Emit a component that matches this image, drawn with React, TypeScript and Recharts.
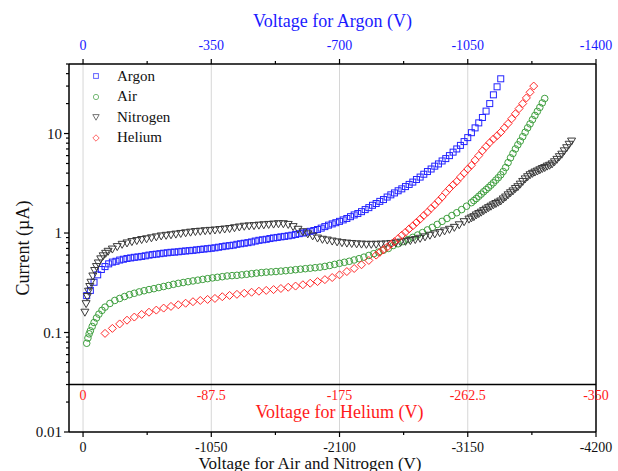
import React from 'react';
import {
  ScatterChart,
  Scatter,
  XAxis,
  YAxis,
  ReferenceLine,
  ReferenceDot,
  Legend
} from 'recharts';

const FONT = '"Liberation Serif", "Times New Roman", Times, serif';

const ARGON = '#2424ff';
const AIR = '#3f9f3f';
const NITROGEN = '#3a3a3a';
const HELIUM = '#ff2a2a';
const BLUE_TEXT = '#1a1aff';
const RED_TEXT = '#ff1a1a';

// Argon, read against the top axis (V, magnitude) and current (uA)
const argonVoltage = [
  10, 20, 30, 40, 50, 60, 70, 80, 90, 100, 110, 120, 130, 140, 150, 160, 170, 180, 190, 200,
  210, 220, 230, 240, 250, 260, 270, 280, 290, 300, 310, 320, 330, 340, 350, 360, 370, 380, 390, 400,
  410, 420, 430, 440, 450, 460, 470, 480, 490, 500, 510, 520, 530, 540, 550, 560, 570, 580, 590, 600,
  610, 620, 630, 640, 650, 660, 670, 680, 690, 700, 710, 720, 730, 740, 750, 760, 770, 780, 790, 800,
  810, 820, 830, 840, 850, 860, 870, 880, 890, 900, 910, 920, 930, 940, 950, 960, 970, 980, 990, 1000,
  1010, 1020, 1030, 1040, 1050, 1060, 1070, 1080, 1090, 1100, 1110, 1120, 1130, 1140
];
const argonCurrent = [
  0.235, 0.265, 0.32, 0.38, 0.43, 0.46, 0.49, 0.51, 0.52, 0.535, 0.545, 0.555, 0.562, 0.57, 0.575, 0.582, 0.59, 0.6, 0.607, 0.613,
  0.62, 0.627, 0.633, 0.64, 0.643, 0.648, 0.655, 0.66, 0.665, 0.67, 0.677, 0.684, 0.69, 0.696, 0.703, 0.71, 0.72, 0.73, 0.74, 0.747,
  0.755, 0.77, 0.78, 0.79, 0.8, 0.813, 0.83, 0.845, 0.855, 0.865, 0.88, 0.893, 0.903, 0.915, 0.925, 0.937, 0.95, 0.967, 0.985, 1.0,
  1.02, 1.04, 1.06, 1.085, 1.12, 1.16, 1.2, 1.235, 1.27, 1.31, 1.355, 1.4, 1.46, 1.52, 1.57, 1.64, 1.72, 1.8, 1.9, 1.98,
  2.08, 2.17, 2.3, 2.42, 2.53, 2.66, 2.78, 2.93, 3.08, 3.25, 3.45, 3.65, 3.9, 4.15, 4.4, 4.7, 4.95, 5.3, 5.6, 6.0,
  6.5, 7.0, 7.6, 8.3, 9.1, 10.2, 11.4, 12.8, 14.5, 16.8, 20.0, 24.5, 29.5, 35.5
];

// Air, bottom axis
const airVoltage = [
  30, 40, 50, 60, 75, 90, 110, 130, 155, 180,
  220, 260, 300, 340, 380, 420, 460, 500, 540, 580,
  620, 660, 700, 740, 780, 820, 860, 900, 940, 980,
  1020, 1060, 1100, 1140, 1180, 1220, 1260, 1300, 1340, 1380,
  1420, 1460, 1500, 1540, 1580, 1620, 1660, 1700, 1740, 1780,
  1820, 1860, 1900, 1940, 1980, 2020, 2060, 2100, 2140, 2180,
  2220, 2260, 2300, 2340, 2380, 2420, 2460, 2500, 2540, 2580,
  2620, 2660, 2700, 2740, 2780, 2820, 2860, 2900, 2940, 2980,
  3020, 3060, 3100, 3140, 3180,
  3200, 3220, 3240, 3260, 3280, 3300, 3320, 3340, 3360, 3380,
  3400, 3420, 3440, 3460, 3480, 3500, 3520, 3540, 3560, 3580,
  3600, 3620, 3640, 3660, 3680, 3700, 3720, 3740, 3760, 3780
];
const airCurrent = [
  0.078, 0.088, 0.097, 0.104, 0.115, 0.126, 0.14, 0.153, 0.167, 0.18,
  0.196, 0.21, 0.22, 0.23, 0.24, 0.248, 0.256, 0.263, 0.27, 0.276,
  0.283, 0.29, 0.297, 0.305, 0.312, 0.318, 0.324, 0.33, 0.336, 0.342,
  0.348, 0.354, 0.359, 0.364, 0.37, 0.373, 0.376, 0.38, 0.385, 0.39,
  0.395, 0.4, 0.404, 0.407, 0.41, 0.414, 0.418, 0.423, 0.428, 0.433,
  0.438, 0.443, 0.448, 0.454, 0.462, 0.472, 0.484, 0.496, 0.508, 0.52,
  0.536, 0.552, 0.572, 0.595, 0.62, 0.644, 0.672, 0.7, 0.75, 0.78,
  0.82, 0.86, 0.905, 0.955, 1.01, 1.075, 1.14, 1.22, 1.31, 1.4,
  1.5, 1.6, 1.72, 1.86, 2.02,
  2.12, 2.22, 2.34, 2.46, 2.6, 2.73, 2.87, 3.03, 3.2, 3.4,
  3.6, 3.85, 4.15, 4.55, 5.1, 5.7, 6.3, 7.0, 7.7, 8.4,
  9.3, 10.3, 11.4, 12.5, 13.8, 15.2, 16.7, 18.3, 20.3, 22.5
];

// Nitrogen, bottom axis
const nitrogenVoltage = [
  15, 25, 35, 45, 55, 65, 80, 95, 110, 125, 145, 165, 185, 205,
  240, 280, 320, 360, 400, 440, 480, 520, 560, 600,
  640, 680, 720, 760, 800, 840, 880, 920, 960, 1000,
  1040, 1080, 1120, 1160, 1200, 1240, 1280, 1320, 1360, 1400,
  1440, 1480, 1520, 1560, 1600, 1640, 1680, 1720, 1760, 1800,
  1840, 1880, 1920, 1960, 2000, 2040, 2080, 2120, 2160, 2200,
  2240, 2280, 2320, 2360, 2400, 2440, 2480, 2520, 2560, 2600,
  2640, 2680, 2720, 2760, 2800, 2840, 2880, 2920, 2960, 3000,
  3040, 3080, 3120, 3160,
  3180, 3200, 3220, 3240, 3260, 3280, 3300, 3320, 3340, 3360,
  3380, 3400, 3420, 3440, 3460, 3480, 3500, 3520, 3540, 3560,
  3580, 3600, 3620, 3640, 3660, 3680, 3700, 3720, 3740, 3760,
  3780, 3800, 3820, 3840, 3860, 3880, 3900, 3920, 3940, 3960,
  3980, 4000
];
const nitrogenCurrent = [
  0.16, 0.195, 0.23, 0.26, 0.29, 0.32, 0.37, 0.42, 0.46, 0.5, 0.55, 0.59, 0.625, 0.655,
  0.69, 0.73, 0.77, 0.795, 0.82, 0.84, 0.86, 0.875, 0.895, 0.915,
  0.935, 0.948, 0.96, 0.975, 0.99, 1.005, 1.02, 1.035, 1.043, 1.055,
  1.063, 1.072, 1.085, 1.097, 1.11, 1.13, 1.15, 1.17, 1.18, 1.187,
  1.2, 1.21, 1.22, 1.23, 1.24, 1.24, 1.22, 1.16, 1.09, 1.03,
  0.98, 0.935, 0.89, 0.865, 0.85, 0.83, 0.815, 0.8, 0.792, 0.785,
  0.778, 0.774, 0.77, 0.77, 0.771, 0.773, 0.777, 0.785, 0.797, 0.81,
  0.825, 0.84, 0.86, 0.885, 0.915, 0.95, 0.98, 1.01, 1.05, 1.09,
  1.14, 1.21, 1.3, 1.38,
  1.42, 1.46, 1.52, 1.57, 1.62, 1.68, 1.74, 1.8, 1.86, 1.92,
  1.98, 2.04, 2.1, 2.2, 2.3, 2.42, 2.54, 2.65, 2.8, 2.92,
  3.1, 3.3, 3.5, 3.68, 3.85, 3.98, 4.1, 4.2, 4.32, 4.45,
  4.55, 4.7, 4.8, 4.95, 5.2, 5.5, 5.85, 6.2, 6.7, 7.2,
  7.8, 8.4
];

// Helium, read against the middle (red) axis
const heliumVoltage = [
  15, 20, 25, 30, 35, 40, 45, 50, 55, 60, 65, 70, 75, 80, 85, 90, 95, 100, 105, 110,
  115, 120, 125, 130, 135, 140, 145, 150, 155, 160, 165, 170, 175, 180, 185, 190, 195, 200,
  202.5, 205, 207.5, 210, 212.5, 215, 217.5, 220, 222.5, 225,
  227.5, 230, 232.5, 235, 237.5, 240, 242.5, 245, 247.5, 250,
  252.5, 255, 257.5, 260, 262.5, 265, 267.5, 270, 272.5, 275,
  277.5, 280, 282.5, 285, 287.5, 290, 292.5, 295, 297.5, 300,
  302.5, 305, 307.5
];
const heliumCurrent = [
  0.098, 0.11, 0.122, 0.133, 0.143, 0.152, 0.16, 0.168, 0.176, 0.183, 0.19, 0.197, 0.204, 0.21, 0.215, 0.22, 0.229, 0.236, 0.242, 0.248,
  0.254, 0.26, 0.265, 0.27, 0.277, 0.285, 0.293, 0.302, 0.313, 0.325, 0.34, 0.357, 0.38, 0.41, 0.44, 0.48, 0.53, 0.6,
  0.64, 0.68, 0.72, 0.77, 0.82, 0.88, 0.95, 1.02, 1.1, 1.18,
  1.28, 1.38, 1.5, 1.62, 1.77, 1.92, 2.1, 2.3, 2.55, 2.8,
  3.05, 3.3, 3.65, 4.0, 4.4, 4.8, 5.4, 6.0, 6.7, 7.4,
  8.1, 8.8, 9.5, 10.3, 11.4, 12.6, 14.1, 15.8, 17.8, 20.0,
  22.8, 26.0, 30.0
];

// axis ticks
const airTicks = [0, -525, -1050, -1575, -2100, -2625, -3150, -3675, -4200];
const airMajor = [0, -1050, -2100, -3150, -4200];
const argonTicks = [0, -175, -350, -525, -700, -875, -1050, -1225, -1400];
const argonMajor = [0, -350, -700, -1050, -1400];
const heliumTicks = [0, -87.5, -175, -262.5, -350];
const heliumAxisCurrent = 0.03;
const gridVoltages = [0, -1050, -2100, -3150];
const currentTicks = [
  0.01, 0.02, 0.03, 0.04, 0.05, 0.06, 0.07, 0.08, 0.09,
  0.1, 0.2, 0.3, 0.4, 0.5, 0.6, 0.7, 0.8, 0.9,
  1, 2, 3, 4, 5, 6, 7, 8, 9,
  10, 20, 30, 40, 50
];
const currentMajor = [0.01, 0.1, 1, 10];

const toPoints = (volts: number[], amps: number[]) =>
  volts.map((v, i) => ({ voltage: -v, current: amps[i] }));

const argonData = toPoints(argonVoltage, argonCurrent);
const airData = toPoints(airVoltage, airCurrent);
const nitrogenData = toPoints(nitrogenVoltage, nitrogenCurrent);
const heliumData = toPoints(heliumVoltage, heliumCurrent);

type Kind = 'square' | 'circle' | 'triangle' | 'diamond';

const Marker = ({ cx, cy, kind, color, s = 1 }: { cx?: number; cy?: number; kind: Kind; color: string; s?: number }) => {
  if (cx == null || cy == null) return null;
  const common = { fill: 'none', stroke: color, strokeWidth: 1 };
  if (kind === 'square') {
    const h = 3 * s;
    return <rect x={cx - h} y={cy - h} width={2 * h} height={2 * h} {...common} />;
  }
  if (kind === 'circle') return <circle cx={cx} cy={cy} r={3.3 * s} {...common} />;
  if (kind === 'triangle') {
    const w = 4 * s;
    return <path d={`M${cx - w},${cy - 3 * s}L${cx + w},${cy - 3 * s}L${cx},${cy + 4 * s}Z`} {...common} />;
  }
  const d = 4 * s;
  return <path d={`M${cx},${cy - d}L${cx + d},${cy}L${cx},${cy + d}L${cx - d},${cy}Z`} {...common} />;
};

const legendItems: { name: string; kind: Kind; color: string }[] = [
  { name: 'Argon', kind: 'square', color: ARGON },
  { name: 'Air', kind: 'circle', color: AIR },
  { name: 'Nitrogen', kind: 'triangle', color: NITROGEN },
  { name: 'Helium', kind: 'diamond', color: HELIUM }
];

const LegendBox = () => (
  <div style={{ fontFamily: FONT, fontSize: 15, color: '#111' }}>
    {legendItems.map((item) => (
      <div key={item.name} style={{ display: 'flex', alignItems: 'center', height: 20.5 }}>
        <svg width={12} height={12} style={{ marginRight: 15, opacity: 0.7 }}>
          <Marker cx={6} cy={6} kind={item.kind} color={item.color} s={0.8} />
        </svg>
        <span>{item.name}</span>
      </div>
    ))}
  </div>
);

const LeftTick = ({ x, y, payload }: any) => {
  const major = currentMajor.includes(payload.value);
  return (
    <g>
      <line x1={x - (major ? 5 : 3)} y1={y} x2={x} y2={y} stroke="#000" strokeWidth={1.2} />
      {major && (
        <text x={x - 7} y={y} dy="0.35em" textAnchor="end" fontSize={15} fontFamily={FONT} fill="#111">
          {payload.value}
        </text>
      )}
    </g>
  );
};

const AirTick = ({ x, y, payload }: any) => {
  const major = airMajor.includes(payload.value);
  return (
    <g>
      <line x1={x} y1={y} x2={x} y2={y + (major ? 5 : 3)} stroke="#000" strokeWidth={1.2} />
      {major && (
        <text x={x} y={y + 19.5} textAnchor="middle" fontSize={14} fontFamily={FONT} fill="#111">
          {payload.value}
        </text>
      )}
    </g>
  );
};

const ArgonTick = ({ x, y, payload }: any) => {
  const major = argonMajor.includes(payload.value);
  return (
    <g>
      <line x1={x} y1={y} x2={x} y2={y - (major ? 5 : 3)} stroke="#000" strokeWidth={1.2} />
      {major && (
        <text x={x} y={y - 14} textAnchor="middle" fontSize={14} fontFamily={FONT} fill={BLUE_TEXT}>
          {payload.value}
        </text>
      )}
    </g>
  );
};

const TopTitle = ({ viewBox }: any) => (
  <text x={viewBox.x + viewBox.width / 2} y={27} textAnchor="middle" fontSize={18} fontFamily={FONT} fill={BLUE_TEXT}>
    Voltage for Argon (V)
  </text>
);

const BottomTitle = ({ viewBox }: any) => (
  <text x={310} y={viewBox.y + 36.5} textAnchor="middle" fontSize={17} fontFamily={FONT} fill="#111">
    Voltage for Air and Nitrogen (V)
  </text>
);

const LeftTitle = ({ viewBox }: any) => {
  const cx = 23;
  const cy = viewBox.y + viewBox.height / 2;
  return (
    <text
      x={cx}
      y={cy}
      transform={`rotate(-90 ${cx} ${cy})`}
      textAnchor="middle"
      dominantBaseline="central"
      fontSize={18}
      fontFamily={FONT}
      fill="#111"
    >
      Current (µA)
    </text>
  );
};

const axisLine = { stroke: '#000', strokeWidth: 1.5 };

const App: React.FC = () => {
  return (
    <div style={{ position: 'absolute', left: 0, top: 0, width: 618, height: 471, background: '#fff' }}>
      <ScatterChart width={618} height={471} margin={{ top: 0, right: 0, bottom: 0, left: 0 }}>
        <XAxis
          xAxisId="argon"
          orientation="top"
          type="number"
          dataKey="voltage"
          domain={[-1400, 38.3]}
          reversed
          allowDataOverflow
          ticks={argonTicks}
          interval={0}
          height={64}
          tickSize={0}
          tickMargin={0}
          tickLine={false}
          tick={<ArgonTick />}
          axisLine={axisLine}
          label={<TopTitle />}
        />
        <XAxis
          xAxisId="air"
          orientation="bottom"
          type="number"
          dataKey="voltage"
          domain={[-4200, 115]}
          reversed
          allowDataOverflow
          ticks={airTicks}
          interval={0}
          height={39}
          tickSize={0}
          tickMargin={0}
          tickLine={false}
          tick={<AirTick />}
          axisLine={axisLine}
          label={<BottomTitle />}
        />
        <XAxis
          xAxisId="he"
          hide
          type="number"
          dataKey="voltage"
          domain={[-350, 9.58]}
          reversed
          allowDataOverflow
        />
        <YAxis
          yAxisId="left"
          type="number"
          dataKey="current"
          scale="log"
          domain={[0.01, 50]}
          allowDataOverflow
          ticks={currentTicks}
          interval={0}
          width={69}
          tickSize={0}
          tickMargin={0}
          tickLine={false}
          tick={<LeftTick />}
          axisLine={axisLine}
          label={<LeftTitle />}
        />
        <YAxis
          yAxisId="right"
          orientation="right"
          type="number"
          dataKey="current"
          scale="log"
          domain={[0.01, 50]}
          allowDataOverflow
          width={22}
          tick={false}
          tickLine={false}
          axisLine={axisLine}
        />

        {/* light vertical grid on the bottom axis majors */}
        {gridVoltages.map((v) => (
          <ReferenceLine key={`grid-${v}`} xAxisId="air" yAxisId="left" x={v} stroke="#d6d6d6" strokeWidth={1} />
        ))}

        {/* helium axis drawn inside the plot */}
        <ReferenceLine xAxisId="air" yAxisId="left" y={heliumAxisCurrent} stroke="#000" strokeWidth={1.5} />
        {heliumTicks.map((v) => (
          <ReferenceDot
            key={`he-${v}`}
            xAxisId="he"
            yAxisId="left"
            x={v}
            y={heliumAxisCurrent}
            r={0}
            fill="none"
            stroke="none"
            label={{ value: String(v), position: 'bottom', offset: 6, fill: RED_TEXT, fontSize: 14, fontFamily: FONT }}
          />
        ))}
        <ReferenceDot
          xAxisId="he"
          yAxisId="left"
          x={-175}
          y={heliumAxisCurrent}
          r={0}
          fill="none"
          stroke="none"
          label={{ value: 'Voltage for Helium (V)', position: 'bottom', offset: 21, fill: RED_TEXT, fontSize: 18, fontFamily: FONT }}
        />

        <Scatter
          name="Argon"
          data={argonData}
          xAxisId="argon"
          yAxisId="left"
          dataKey="current"
          isAnimationActive={false}
          shape={(p: any) => <Marker cx={p.cx} cy={p.cy} kind="square" color={ARGON} />}
        />
        <Scatter
          name="Air"
          data={airData}
          xAxisId="air"
          yAxisId="left"
          dataKey="current"
          isAnimationActive={false}
          shape={(p: any) => <Marker cx={p.cx} cy={p.cy} kind="circle" color={AIR} />}
        />
        <Scatter
          name="Nitrogen"
          data={nitrogenData}
          xAxisId="air"
          yAxisId="left"
          dataKey="current"
          isAnimationActive={false}
          shape={(p: any) => <Marker cx={p.cx} cy={p.cy} kind="triangle" color={NITROGEN} />}
        />
        <Scatter
          name="Helium"
          data={heliumData}
          xAxisId="he"
          yAxisId="left"
          dataKey="current"
          isAnimationActive={false}
          shape={(p: any) => <Marker cx={p.cx} cy={p.cy} kind="diamond" color={HELIUM} />}
        />

        <Legend
          layout="horizontal"
          verticalAlign="middle"
          align="center"
          content={<LegendBox />}
          wrapperStyle={{ left: 90, top: 66, width: 'auto' }}
        />
      </ScatterChart>
    </div>
  );
};

export default App;
